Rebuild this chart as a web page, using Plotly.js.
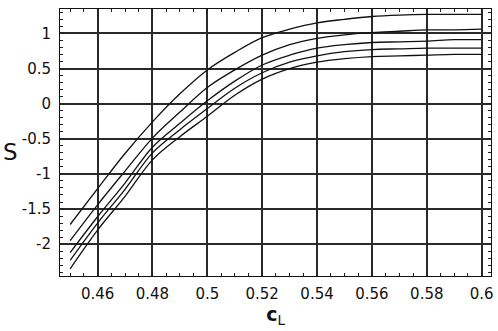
<!DOCTYPE html>
<html>
<head>
<meta charset="utf-8">
<script src="https://cdn.plot.ly/plotly-3.0.1.min.js"></script>
<style>
  html, body { margin: 0; padding: 0; background: #fff; }
  #chart { width: 498px; height: 331px; }
</style>
</head>
<body>
<div id="chart"></div>
<script>
const cL = [0.45, 0.46, 0.47, 0.48, 0.49, 0.50, 0.51, 0.52,
            0.53, 0.54, 0.55, 0.56, 0.57, 0.58, 0.59, 0.60];

// five S curves, top to bottom
const s1 = [-1.72, -1.21, -0.71, -0.26, 0.14, 0.48, 0.73, 0.94, 1.06, 1.15, 1.20, 1.24, 1.26, 1.27, 1.27, 1.27];
const s2 = [-1.95, -1.44, -0.96, -0.49, -0.12, 0.23, 0.48, 0.69, 0.84, 0.93, 0.98, 1.01, 1.03, 1.05, 1.05, 1.06];
const s3 = [-2.12, -1.61, -1.13, -0.62, -0.28, 0.04, 0.32, 0.55, 0.69, 0.79, 0.84, 0.87, 0.88, 0.89, 0.91, 0.91];
const s4 = [-2.23, -1.70, -1.22, -0.70, -0.37, -0.07, 0.22, 0.44, 0.59, 0.68, 0.74, 0.77, 0.78, 0.79, 0.79, 0.79];
const s5 = [-2.35, -1.80, -1.32, -0.80, -0.47, -0.18, 0.12, 0.35, 0.50, 0.59, 0.64, 0.67, 0.68, 0.69, 0.70, 0.70];

const xTicks = [0.46, 0.48, 0.5, 0.52, 0.54, 0.56, 0.58, 0.6];
const xTickText = ['0.46', '0.48', '0.5', '0.52', '0.54', '0.56', '0.58', '0.6'];
const yTicks = [-2, -1.5, -1, -0.5, 0, 0.5, 1];
const yTickText = ['-2', '-1.5', '-1', '-0.5', '0', '0.5', '1'];

const series = [s1, s2, s3, s4, s5];

const data = series.map(s => ({
    x: cL,
    y: s,
    type: 'scatter',
    mode: 'lines',
    line: { color: '#111', width: 1.3, shape: 'spline', smoothing: 1 },
    hoverinfo: 'skip'
}));

const axisCommon = {
    showline: true,
    linecolor: '#111',
    linewidth: 1,
    mirror: 'ticks',
    showgrid: true,
    gridcolor: '#2a2a2a',
    gridwidth: 2,
    zeroline: false,
    ticks: 'inside',
    ticklen: 4,
    tickcolor: '#222',
    tickfont: { family: 'DejaVu Sans', size: 15, color: '#111' }
};

const layout = {
    width: 498,
    height: 331,
    margin: { l: 60, r: 7, t: 9, b: 55 },
    showlegend: false,
    plot_bgcolor: '#fff',
    paper_bgcolor: '#fff',
    xaxis: Object.assign({}, axisCommon, {
        range: [0.4463, 0.6034],
        tickmode: 'array',
        tickvals: xTicks,
        ticktext: xTickText,
        ticklabelstandoff: 4,
        minor: { dtick: 0.005, ticks: 'inside', ticklen: 3, tickcolor: '#222', showgrid: false },
        title: { text: '<b>c</b><sub>L</sub>', font: { family: 'DejaVu Sans', size: 19, color: '#111' }, standoff: 5 }
    }),
    yaxis: Object.assign({}, axisCommon, {
        range: [-2.453, 1.347],
        tickmode: 'array',
        tickvals: yTicks,
        ticktext: yTickText,
        ticklabelstandoff: 5,
        minor: { dtick: 0.1, ticks: 'inside', ticklen: 3, tickcolor: '#222', showgrid: false }
    }),
    annotations: [{
        text: 'S',
        xref: 'paper', yref: 'paper',
        x: -0.114, y: 0.464,
        xanchor: 'center', yanchor: 'middle',
        showarrow: false,
        font: { family: 'DejaVu Sans', size: 23, color: '#111' }
    }]
};

Plotly.newPlot('chart', data, layout, { staticPlot: true });
</script>
</body>
</html>
